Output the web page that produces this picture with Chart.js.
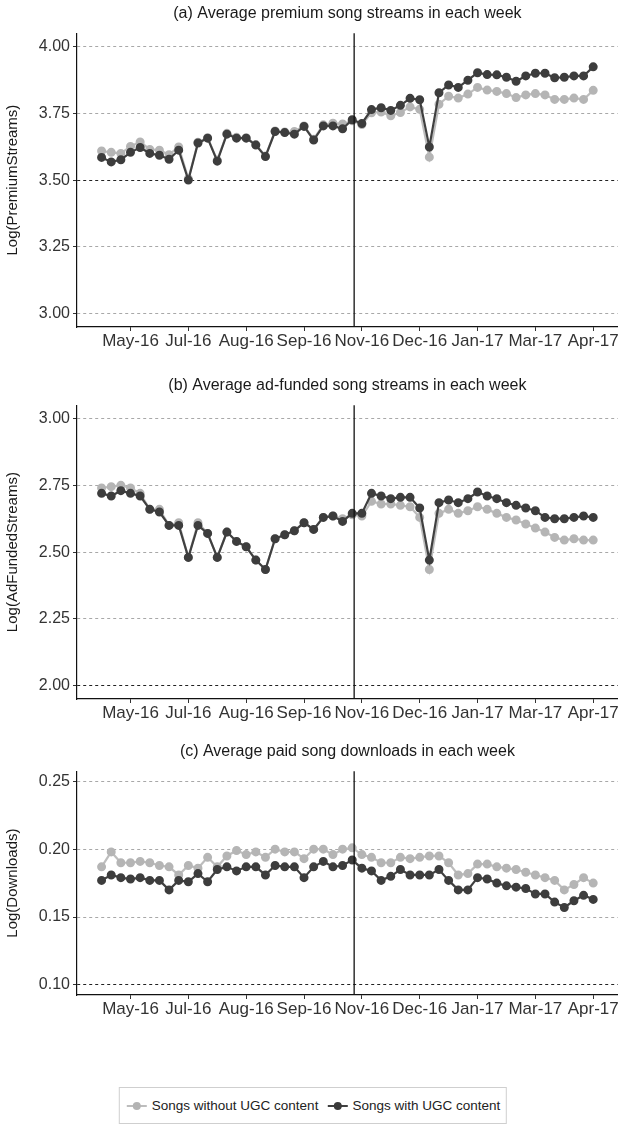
<!DOCTYPE html>
<html>
<head>
<meta charset="utf-8">
<script src="https://cdn.jsdelivr.net/npm/chart.js@4.4.1/dist/chart.umd.min.js"></script>
<style>
  body { margin: 0; background: #fff; font-family: "Liberation Sans", Arial, sans-serif; }
  #wrap { position: relative; width: 624px; height: 1148px; }
  .panel { position: absolute; left: 0; width: 624px; }
  #legend {
    position: absolute; left: 313px; top: 1087px; height: 37px; transform: translateX(-50%);
    padding: 0 6px; border: 1px solid #cfcfcf; box-sizing: border-box; white-space: nowrap;
    display: flex; align-items: center; gap: 8px;
    font-size: 13.5px; color: #222;
  }
  .key { position: relative; display: inline-block; width: 22px; height: 12px; margin-right: 4px; vertical-align: middle; }
  .key i { position: absolute; left: 1px; right: 1px; top: 5px; height: 2px; }
  .key b { position: absolute; left: 7px; top: 2px; width: 8px; height: 8px; border-radius: 50%; }
</style>
</head>
<body>
<div id="wrap">
  <div class="panel" style="top:0;height:350px"><canvas id="chartA"></canvas></div>
  <div class="panel" style="top:372px;height:350px"><canvas id="chartB"></canvas></div>
  <div class="panel" style="top:738px;height:280px"><canvas id="chartC"></canvas></div>
  <div id="legend">
    <span><span class="key"><i style="background:#bdbdbd"></i><b style="background:#b3b3b3"></b></span>Songs without UGC content</span>
    <span><span class="key"><i style="background:#404040"></i><b style="background:#3a3a3a"></b></span>Songs with UGC content</span>
  </div>
</div>
<script>
// semanas (indice) e rotulos do eixo x
const weekTickPos = [3, 9, 15, 21, 27, 33, 39, 45, 51];
const weekTickLabels = ['May-16', 'Jul-16', 'Aug-16', 'Sep-16', 'Nov-16', 'Dec-16', 'Jan-17', 'Mar-17', 'Apr-17'];
const breakWeek = 26.2;

// (a) premium streams
const premiumWithout = [3.609, 3.604, 3.600, 3.626, 3.643, 3.615, 3.612, 3.595, 3.624, 3.505, 3.642, 3.659, 3.575, 3.675, 3.660, 3.659, 3.633, 3.590, 3.684, 3.680, 3.682, 3.703, 3.653, 3.707, 3.713, 3.710, 3.722, 3.708, 3.752, 3.755, 3.741, 3.753, 3.774, 3.765, 3.586, 3.784, 3.814, 3.807, 3.822, 3.847, 3.837, 3.832, 3.824, 3.809, 3.819, 3.824, 3.819, 3.802, 3.802, 3.807, 3.802, 3.836];
const premiumWith = [3.585, 3.568, 3.576, 3.604, 3.622, 3.600, 3.593, 3.578, 3.612, 3.500, 3.639, 3.657, 3.571, 3.672, 3.657, 3.657, 3.631, 3.588, 3.682, 3.678, 3.672, 3.701, 3.650, 3.703, 3.703, 3.692, 3.726, 3.712, 3.764, 3.771, 3.761, 3.780, 3.806, 3.801, 3.624, 3.827, 3.856, 3.847, 3.874, 3.902, 3.895, 3.894, 3.885, 3.870, 3.890, 3.900, 3.900, 3.883, 3.885, 3.890, 3.890, 3.924];
const premiumTicks = [3.00, 3.25, 3.50, 3.75, 4.00];

// (b) ad-funded streams
const adWithout = [2.740, 2.745, 2.750, 2.740, 2.720, 2.660, 2.660, 2.600, 2.610, 2.480, 2.610, 2.570, 2.480, 2.575, 2.540, 2.520, 2.470, 2.435, 2.550, 2.565, 2.580, 2.610, 2.585, 2.630, 2.635, 2.625, 2.640, 2.635, 2.690, 2.680, 2.680, 2.675, 2.670, 2.630, 2.435, 2.645, 2.660, 2.645, 2.655, 2.670, 2.660, 2.645, 2.630, 2.620, 2.605, 2.590, 2.575, 2.555, 2.545, 2.550, 2.545, 2.545];
const adWith = [2.720, 2.710, 2.730, 2.720, 2.710, 2.660, 2.650, 2.600, 2.600, 2.480, 2.600, 2.570, 2.480, 2.575, 2.540, 2.520, 2.470, 2.435, 2.550, 2.565, 2.580, 2.610, 2.585, 2.630, 2.635, 2.615, 2.645, 2.645, 2.720, 2.710, 2.700, 2.705, 2.705, 2.665, 2.470, 2.685, 2.695, 2.685, 2.700, 2.725, 2.710, 2.700, 2.685, 2.675, 2.665, 2.655, 2.630, 2.625, 2.625, 2.630, 2.635, 2.630];
const adTicks = [2.00, 2.25, 2.50, 2.75, 3.00];

// (c) downloads
const dlWithout = [0.187, 0.198, 0.190, 0.190, 0.191, 0.190, 0.188, 0.187, 0.181, 0.188, 0.186, 0.194, 0.187, 0.195, 0.199, 0.196, 0.198, 0.194, 0.200, 0.198, 0.198, 0.193, 0.200, 0.200, 0.196, 0.200, 0.201, 0.196, 0.194, 0.190, 0.190, 0.194, 0.193, 0.194, 0.195, 0.195, 0.190, 0.181, 0.182, 0.189, 0.189, 0.187, 0.186, 0.185, 0.183, 0.181, 0.179, 0.177, 0.170, 0.174, 0.179, 0.175];
const dlWith = [0.177, 0.181, 0.179, 0.178, 0.179, 0.177, 0.177, 0.170, 0.177, 0.176, 0.182, 0.176, 0.185, 0.187, 0.184, 0.187, 0.187, 0.181, 0.188, 0.187, 0.187, 0.179, 0.187, 0.191, 0.187, 0.188, 0.192, 0.186, 0.184, 0.177, 0.180, 0.185, 0.181, 0.181, 0.181, 0.185, 0.177, 0.170, 0.170, 0.179, 0.178, 0.175, 0.173, 0.172, 0.171, 0.167, 0.167, 0.161, 0.157, 0.162, 0.166, 0.163];
const dlTicks = [0.10, 0.15, 0.20, 0.25];

const FONT = '"Liberation Sans", Arial, sans-serif';
const LIGHT = '#b5b5b5';
const DARK = '#3d3d3d';

// linha vertical na semana de corte
const breakLine = {
    id: 'breakLine',
    afterDatasetsDraw(chart) {
        const { ctx, chartArea, scales } = chart;
        const x = scales.x.getPixelForValue(breakWeek);
        ctx.save();
        ctx.strokeStyle = '#111';
        ctx.lineWidth = 1.3;
        ctx.beginPath();
        ctx.moveTo(x, chartArea.top);
        ctx.lineTo(x, chartArea.bottom);
        ctx.stroke();
        ctx.restore();
    }
};

function makePanel(id, title, yTitle, without, withUgc, ticks, yMin, yMax, darkLine) {
    const toPoints = arr => arr.map((v, i) => ({ x: i, y: v }));
    return new Chart(document.getElementById(id), {
        type: 'line',
        data: {
            datasets: [
                {
                    label: 'Songs without UGC content',
                    data: toPoints(without),
                    borderColor: '#bdbdbd',
                    backgroundColor: LIGHT,
                    pointBackgroundColor: LIGHT,
                    pointBorderColor: LIGHT,
                    borderWidth: 2.2,
                    pointRadius: 3.4,
                    tension: 0,
                    order: 1
                },
                {
                    label: 'Songs with UGC content',
                    data: toPoints(withUgc),
                    borderColor: '#404040',
                    backgroundColor: DARK,
                    pointBackgroundColor: DARK,
                    pointBorderColor: DARK,
                    borderWidth: 2.2,
                    pointRadius: 3.4,
                    tension: 0,
                    order: 0
                }
            ]
        },
        options: {
            responsive: true,
            maintainAspectRatio: false,
            animation: false,
            layout: { padding: { top: 2, right: 2, left: 0, bottom: 0 } },
            plugins: {
                legend: { display: false },
                tooltip: { enabled: false },
                title: {
                    display: true,
                    text: title,
                    fullSize: false,
                    color: '#1a1a1a',
                    font: { family: FONT, size: 16, weight: 'normal' },
                    padding: { top: 2, bottom: 10 }
                }
            },
            scales: {
                x: {
                    type: 'linear',
                    min: -2.55,
                    max: 53.55,
                    afterBuildTicks: s => { s.ticks = weekTickPos.map(v => ({ value: v })); },
                    afterFit: s => { s.height = 23; },
                    ticks: {
                        color: '#333',
                        font: { family: FONT, size: 17 },
                        padding: 0,
                        maxRotation: 0,
                        autoSkip: false,
                        callback: (v) => weekTickLabels[weekTickPos.indexOf(v)]
                    },
                    grid: { drawOnChartArea: false, drawTicks: true, tickLength: 4, color: '#333' },
                    border: { display: true, color: '#111', width: 1.2 }
                },
                y: {
                    type: 'linear',
                    min: yMin,
                    max: yMax,
                    afterBuildTicks: s => { s.ticks = ticks.map(v => ({ value: v })); },
                    afterFit: s => { s.width = 77; },
                    ticks: {
                        color: '#333',
                        font: { family: FONT, size: 16 },
                        padding: 3,
                        callback: v => Number(v).toFixed(2)
                    },
                    title: {
                        display: true,
                        text: yTitle,
                        color: '#1a1a1a',
                        font: { family: FONT, size: 15 },
                        padding: { top: 4, bottom: 2 }
                    },
                    grid: {
                        drawTicks: true,
                        tickLength: 4,
                        tickColor: '#333',
                        lineWidth: 1,
                        color: c => (c.tick && Math.abs(c.tick.value - darkLine) < 1e-9) ? '#222' : '#a8a8a8'
                    },
                    border: { display: true, color: '#111', width: 1.2, dash: [3, 3] }
                }
            }
        },
        plugins: [breakLine]
    });
}

makePanel('chartA', '(a) Average premium song streams in each week', 'Log(PremiumStreams)',
    premiumWithout, premiumWith, premiumTicks, 2.95, 4.05, 3.50);
makePanel('chartB', '(b) Average ad-funded song streams in each week', 'Log(AdFundedStreams)',
    adWithout, adWith, adTicks, 1.95, 3.05, 2.00);
makePanel('chartC', '(c) Average paid song downloads in each week', 'Log(Downloads)',
    dlWithout, dlWith, dlTicks, 0.0925, 0.2575, 0.10);
</script>
</body>
</html>
